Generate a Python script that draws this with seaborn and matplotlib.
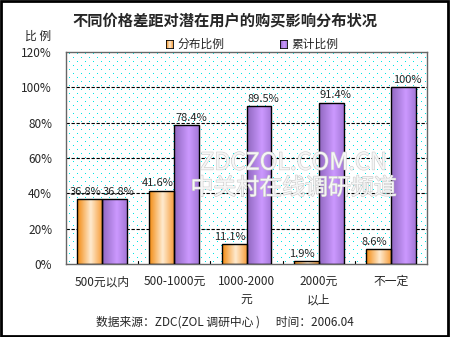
import numpy as np
import pandas as pd
import matplotlib
matplotlib.use("Agg")
import matplotlib.pyplot as plt
import matplotlib.patheffects as pe
from matplotlib.colors import LinearSegmentedColormap
from matplotlib.patches import Rectangle
import seaborn as sns

categories = ["500元以内", "500-1000元", "1000-2000\n元", "2000元\n以上", "不一定"]
share = [36.8, 41.6, 11.1, 1.9, 8.6]
cumulative = [36.8, 78.4, 89.5, 91.4, 100.0]
series_names = ["分布比例", "累计比例"]
y_ticks = [0, 20, 40, 60, 80, 100, 120]
value_labels_share = ["36.8%", "41.6%", "11.1%", "1.9%", "8.6%"]
value_labels_cum = ["36.8%", "78.4%", "89.5%", "91.4%", "100%"]

sns.set_theme(style="white")
plt.rcParams["font.family"] = ["Noto Sans CJK SC", "DejaVu Sans"]

df = pd.DataFrame({
    "类别": categories * 2,
    "比例": share + cumulative,
    "系列": [series_names[0]] * 5 + [series_names[1]] * 5,
})

fig = plt.figure(figsize=(4.5, 3.37), dpi=100)
ax = fig.add_axes([66 / 450, 1 - 264 / 337, 361 / 450, 212 / 337])

sns.barplot(data=df, x="类别", y="比例", hue="系列", ax=ax,
            palette=["#F7A040", "#B088E8"], width=0.69, saturation=1,
            edgecolor="black", linewidth=1, legend=False, zorder=3)
bars = [p for p in ax.patches if p.get_height() > 0]

# dotted cyan background texture: one-pixel dots on a staggered 8x4 grid
W, H = 361, 212
tex = np.ones((H, W, 3))
cyan = np.array([0.0, 0.9, 0.9])
for r in range(1, H, 4):
    off = 0 if (r // 4) % 2 == 0 else 4
    tex[r, 3 + off::8] = cyan
ax.imshow(tex, extent=[0, 1, 0, 1], transform=ax.transAxes, aspect="auto",
          interpolation="nearest", zorder=0.5)

ax.set_ylim(0, 120)
ax.set_xlim(-0.5, 4.5)
ax.set_yticks(y_ticks)
ax.set_yticklabels([f"{t}%" for t in y_ticks], fontsize=8.5)
ax.set_xticks(range(5))
ax.set_xticklabels(categories, fontsize=8.5, linespacing=1.5)
ax.tick_params(axis="x", length=0, pad=8)
ax.tick_params(axis="y", length=0, pad=10)
ax.set_xlabel("")
ax.set_ylabel("")
for t in y_ticks[1:-1]:
    ax.axhline(t, color="black", linestyle=(0, (3, 1.5)), linewidth=0.8, zorder=1)
for b in np.arange(0.5, 4.5, 1):
    ax.plot([b, b], [0, 1.6], color="black", linewidth=0.8, zorder=2)
for s in ax.spines.values():
    s.set_color("#666666")
    s.set_linewidth(1)

# gradient fills for bars
orange_cmap = LinearSegmentedColormap.from_list(
    "o", [(0, "#F38A10"), (0.55, "#FFEBD0"), (1, "#F7A040")])
purple_cmap = LinearSegmentedColormap.from_list(
    "p", [(0, "#9068C0"), (0.6, "#CC99FF"), (1, "#A478D8")])
grad = np.linspace(0, 1, 64).reshape(1, -1)
for i, bar in enumerate(bars):
    cmap = orange_cmap if i < 5 else purple_cmap
    x0, w, h = bar.get_x(), bar.get_width(), bar.get_height()
    bar.set_facecolor("none")
    im = ax.imshow(grad, cmap=cmap, aspect="auto", extent=[x0, x0 + w, 0, h],
                   zorder=2.5, interpolation="bicubic")
    im.set_clip_path(bar)

ax.set_xlim(-0.5, 4.5)
ax.set_ylim(0, 120)

# value labels; the two series' labels lean slightly apart
labels = value_labels_share + value_labels_cum
for i, bar in enumerate(bars):
    dx = -3 if i < 5 else 3
    ax.annotate(labels[i], (bar.get_x() + bar.get_width() / 2, bar.get_height()),
                xytext=(dx, 1.5), textcoords="offset points",
                ha="center", va="bottom", fontsize=8, zorder=5)

# watermark
wm = [pe.withStroke(linewidth=0.8, foreground="#CACACA")]
ax.text(0.63, 0.476, "ZDCZOL.COM.CN", transform=ax.transAxes, ha="center",
        va="center", fontsize=17, color="#F6F6F6", zorder=4, path_effects=wm)
ax.text(0.63, 0.358, "中关村在线调研频道", transform=ax.transAxes, ha="center",
        va="center", fontsize=16.5, color="#F6F6F6", zorder=4, path_effects=wm)

# titles and legend
fig.text(0.5, 1 - 20 / 337, "不同价格差距对潜在用户的购买影响分布状况",
         ha="center", va="center", fontsize=11, fontweight="bold")
fig.text(38 / 450, 1 - 36 / 337, "比 例", ha="center", va="center", fontsize=8.5)

for xl, name, cmap in [(166, series_names[0], orange_cmap), (280, series_names[1], purple_cmap)]:
    lax = fig.add_axes([xl / 450, 1 - 48 / 337, 7 / 450, 8 / 337])
    lax.imshow(grad, cmap=cmap, aspect="auto", extent=[0, 1, 0, 1])
    lax.set_xticks([]); lax.set_yticks([])
    for s in lax.spines.values():
        s.set_linewidth(0.6); s.set_color("black")
    fig.text((xl + 11) / 450, 1 - 44 / 337, name, ha="left", va="center", fontsize=8.5)

fig.text(0.5, 1 - 322 / 337, "数据来源：ZDC(ZOL 调研中心 )      时间：2006.04",
         ha="center", va="center", fontsize=8.5)

# outer frame
fig.patches.append(Rectangle((0.002, 0.003), 0.994, 0.994, transform=fig.transFigure,
                             fill=False, edgecolor="black", linewidth=2))

fig.savefig("out.png", dpi=100)
